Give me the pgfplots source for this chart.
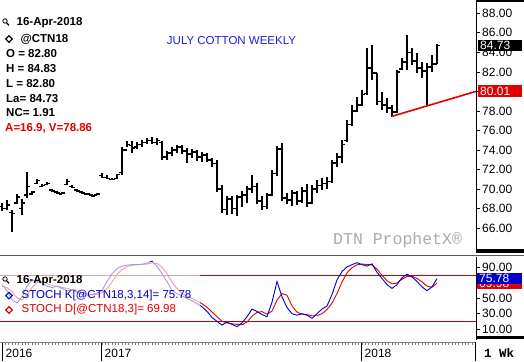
\documentclass[border=0pt]{standalone}
\usepackage{pgfplots}
\pgfplotsset{compat=1.18}
\usepackage{pgfplotstable}
\usepackage{fontspec}
\setmainfont{Liberation Sans}
\setmonofont{Liberation Mono}
\usetikzlibrary{shapes.geometric}

\definecolor{kblue}{RGB}{0,0,204}
\definecolor{dred}{RGB}{225,0,0}
\definecolor{lred}{RGB}{200,0,0}
\definecolor{titleblue}{RGB}{30,30,210}
\definecolor{wmgray}{RGB}{170,170,170}

\pgfdeclareplotmark{ohlcO}{\pgfpathmoveto{\pgfqpoint{-2.6pt}{0pt}}\pgfpathlineto{\pgfqpoint{0pt}{0pt}}\pgfusepathqstroke}
\pgfdeclareplotmark{ohlcC}{\pgfpathmoveto{\pgfqpoint{0pt}{0pt}}\pgfpathlineto{\pgfqpoint{2.6pt}{0pt}}\pgfusepathqstroke}

\pgfplotstableread{
t O H L C
-72 68.2 68.6 67.8 68.0
-71 68.0 68.9 67.9 68.4
-70 67.6 67.9 65.6 67.5
-69 68.6 69.5 68.5 69.2
-68 68.0 69.0 67.4 68.6
-67 69.4 71.8 69.1 70.3
-66 69.5 69.8 69.4 69.7
-65 70.6 71.0 70.5 70.9
-64 70.3 70.5 70.2 70.4
-63 70.5 70.7 70.4 70.6
-62 69.9 70.0 69.7 69.8
-61 69.7 69.8 69.5 69.6
-60 69.5 69.7 69.5 69.6
-59 70.5 71.0 70.4 70.8
-58 70.3 70.4 70.1 70.2
-57 69.9 70.0 69.7 69.8
-56 69.7 69.8 69.5 69.6
-55 69.5 69.6 69.4 69.5
-54 69.4 69.5 69.2 69.3
-53 69.4 69.6 69.4 69.5
-52 71.4 71.7 71.1 71.2
-51 71.2 71.5 71.0 71.1
-50 71.0 71.1 70.9 71.0
-49 71.1 71.6 71.0 71.5
-48 71.7 74.3 71.5 74.0
-47 74.0 74.9 74.3 74.6
-46 74.5 74.9 73.7 74.2
-45 74.3 74.8 74.1 74.6
-44 74.6 75.0 74.3 74.8
-43 74.8 75.2 74.6 75.0
-42 75.0 75.3 74.6 74.8
-41 74.8 75.2 74.5 75.0
-40 74.8 74.9 73.0 73.3
-39 73.3 73.9 73.0 73.7
-38 73.7 74.3 73.4 74.0
-37 74.0 74.5 73.7 74.3
-36 74.3 74.5 73.6 73.9
-35 73.9 74.2 72.7 73.6
-34 73.6 74.1 73.2 73.8
-33 73.8 74.0 72.9 73.3
-32 73.3 73.8 72.8 73.5
-31 73.5 73.7 72.8 73.0
-30 73.0 73.2 72.3 72.6
-29 72.6 73.0 69.7 70.0
-28 70.0 70.4 67.6 67.9
-27 67.9 69.3 67.4 69.0
-26 69.0 69.3 67.5 68.0
-25 68.0 69.4 67.3 69.2
-24 69.2 69.8 68.2 69.4
-23 69.4 70.3 68.6 70.0
-22 70.0 71.5 69.6 70.3
-21 70.3 70.6 68.5 68.8
-20 68.8 69.3 67.9 68.2
-19 68.2 69.6 68.0 69.4
-18 69.4 72.0 69.3 71.6
-17 71.6 74.4 71.4 74.1
-16 74.1 74.7 68.8 69.1
-15 69.1 69.6 68.5 68.9
-14 68.9 69.9 68.3 69.6
-13 69.6 69.8 68.4 68.8
-12 68.8 70.2 68.6 69.8
-11 69.8 70.5 68.2 68.6
-10 68.6 70.4 68.5 70.0
-9 70.0 70.9 69.6 70.4
-8 70.4 71.1 69.9 70.6
-7 70.6 71.2 70.0 70.8
-6 70.8 73.0 70.6 72.7
-5 72.7 73.7 72.3 73.3
-4 73.3 75.0 72.7 74.6
-3 75.0 77.1 74.8 76.6
-2 76.6 78.6 76.5 78.0
-1 78.0 79.4 77.9 78.6
0 78.6 80.1 78.5 79.7
1 79.8 84.4 79.6 82.4
2 82.4 84.8 81.2 81.9
3 81.9 81.9 78.6 79.0
4 79.0 79.9 78.1 78.6
5 78.6 79.3 77.8 78.3
6 78.3 78.6 77.4 77.9
7 77.9 82.2 77.8 82.0
8 82.3 83.4 82.2 83.0
9 83.0 85.8 82.2 84.0
10 84.0 84.4 82.7 83.1
11 83.1 83.9 81.9 82.4
12 82.4 83.0 81.4 82.1
13 82.1 82.9 78.6 82.5
14 82.5 83.7 82.0 82.82
15 82.80 84.83 82.80 84.73
}\ohlc

\pgfplotstableread{
t K D
-72 68 66
-71 60 64
-70 48 58.7
-69 44 50.7
-68 52 48
-67 66 54
-66 74 64
-65 72 70.7
-64 70 72
-63 66 69.3
-62 64 66.7
-61 66 65.3
-60 63 64.3
-59 60 63
-58 61 61.3
-57 58 59.7
-56 55 58
-55 54 55.7
-54 55 54.7
-53 57 55.3
-52 60 57.3
-51 72 63
-50 82 71.3
-49 89 81
-48 92 87.7
-47 93.5 91.5
-46 94 93.2
-45 94 93.8
-44 94.5 94.2
-43 96 94.8
-42 98.5 96.3
-41 92 95.5
-40 82 90.8
-39 72 82
-38 60 71.3
-37 56 62.7
-36 53 56.3
-35 50 53
-34 47 50
-33 43 46.7
-32 39 43
-31 33 38.3
-30 25 32.3
-29 20 26
-28 15 20
-27 19 18
-26 16 16.7
-25 13 16
-24 18 15.7
-23 26 19
-22 36 26.7
-21 33 31.7
-20 29 32.7
-19 26 29.3
-18 45 33.3
-17 72 47.7
-16 52 56.3
-15 38 54
-14 30 40
-13 28 32
-12 30 29.3
-11 28 28.7
-10 24 27.3
-9 30 27.3
-8 36 30
-7 40 35.3
-6 55 43.7
-5 74 56.3
-4 85 71.3
-3 91 83.3
-2 94 90
-1 96.5 93.8
0 94 94.8
1 92 94.2
2 95 93.7
3 84 88
4 76 80
5 68 73
6 63 69
7 68 70
8 77 75
9 81.5 78.5
10 78 79
11 72 76
12 65 71.5
13 60 66
14 65 64.5
15 75.78 69.98
}\stoch

\begin{document}
\begin{tikzpicture}
\path[use as bounding box] (0pt,0pt) rectangle (524pt,361pt);

% ---------- main price panel ----------
\begin{axis}[
  at={(0pt,108pt)}, anchor=south west, scale only axis,
  width=476pt, height=253pt,
  xmin=-72.4, xmax=22.8, ymin=63.47, ymax=89.36,
  axis x line=none, axis y line*=right,
  ytick={66,68,...,88},
  yticklabels={66.00,68.00,70.00,72.00,74.00,76.00,78.00,,82.00,84.00,86.00,88.00},
  tick align=outside, major tick length=4pt,
  yticklabel style={font=\fontsize{12}{12}\selectfont, inner xsep=2pt},
  axis line style={black, line width=0.8pt},
  tick style={black, line width=0.7pt},
  clip=false,
]
\addplot[draw=none, mark=none, forget plot,
  error bars/.cd, y dir=both, y explicit, error mark=none,
  error bar style={draw=black, line width=1.6pt}]
  table[x=t, y expr={(\thisrow{H}+\thisrow{L})/2}, y error expr={(\thisrow{H}-\thisrow{L})/2}] {\ohlc};
\addplot[only marks, mark=ohlcO, mark options={black, line width=1.4pt}] table[x=t, y=O] {\ohlc};
\addplot[only marks, mark=ohlcC, mark options={black, line width=1.4pt}] table[x=t, y=C] {\ohlc};
\addplot[dred, line width=1.6pt] coordinates {(5.95,77.45) (22.8,80.01)};
\end{axis}

% ---------- stochastic panel ----------
\begin{axis}[
  at={(0pt,21pt)}, anchor=south west, scale only axis,
  width=476pt, height=83pt,
  xmin=-72.4, xmax=22.8, ymin=-4.36, ymax=103.97,
  axis x line=none, axis y line*=right,
  ytick={10,30,50,70,90},
  yticklabels={10.00,30.00,50.00,,90.00},
  tick align=outside, major tick length=4pt,
  yticklabel style={font=\fontsize{12}{12}\selectfont, inner xsep=2pt},
  axis line style={black, line width=0.8pt},
  tick style={black, line width=0.7pt},
  clip=false,
]
\addplot[lred, line width=0.8pt] coordinates {(-72.4,80) (22.8,80)};
\addplot[lred, line width=0.8pt] coordinates {(-72.4,20) (22.8,20)};
\addplot[dred, line width=0.9pt] table[x=t, y=D] {\stoch};
\addplot[kblue, line width=0.9pt] table[x=t, y=K] {\stoch};
\fill[white, fill opacity=0.62] (axis cs:-72.4,24.3) rectangle (axis cs:-32.4,97.4);
\end{axis}

% ---------- time strip ----------
\begin{axis}[
  at={(0pt,0pt)}, anchor=south west, scale only axis,
  width=476pt, height=19pt,
  xmin=-72.4, xmax=22.8, ymin=0, ymax=1,
  axis y line=none, axis x line*=top,
  xtick={-71.86,-52.06,-0.06}, xticklabels={,,},
  minor xtick={-72,-71.3333,...,22.6},
  tick align=inside, major tick length=19pt, minor tick length=3pt,
  major tick style={black, line width=1.4pt},
  minor tick style={gray, line width=0.5pt},
  axis line style={gray, line width=0.9pt},
  clip=false,
]
\node[anchor=west, inner sep=0pt, font=\fontsize{12}{12}\selectfont] at (axis cs:-71.3,0.42) {2016};
\node[anchor=west, inner sep=0pt, font=\fontsize{12}{12}\selectfont] at (axis cs:-51.5,0.42) {2017};
\node[anchor=west, inner sep=0pt, font=\fontsize{12}{12}\selectfont] at (axis cs:0.5,0.42) {2018};
\end{axis}

% ---------- frame decorations ----------
\fill[black] (476pt,358.5pt) rectangle (524pt,361pt);
\fill[black] (476pt,107.5pt) rectangle (524pt,111.5pt);
\draw[black!65, line width=1.5pt] (0pt,105.5pt) -- (524pt,105.5pt);
\fill[black] (476pt,21.5pt) rectangle (524pt,25pt);
\draw[black, line width=0.8pt] (475.5pt,0pt) -- (475.5pt,19pt);
\node[anchor=west, inner sep=0pt, font=\ttfamily\bfseries\fontsize{12.5}{12.5}\selectfont] at (484pt,8.5pt) {1 Wk};

% value boxes
\node[fill=black, text=white, anchor=west, inner xsep=2pt, inner ysep=0pt, text width=40pt, minimum height=11pt, align=left, font=\fontsize{12}{12}\selectfont] at (478pt,315.7pt) {84.73};
\node[fill=dred, text=white, anchor=west, inner xsep=2pt, inner ysep=0pt, text width=40pt, minimum height=12pt, align=left, font=\fontsize{12}{12}\selectfont] at (478pt,270pt) {80.01};
\node[fill=dred, text=white, anchor=west, inner xsep=2pt, inner ysep=0pt, text width=41pt, minimum height=11pt, align=left, font=\fontsize{12}{12}\selectfont] at (477pt,77.5pt) {69.98};
\node[fill=kblue, text=white, anchor=west, inner xsep=2pt, inner ysep=0pt, text width=41pt, minimum height=11pt, align=left, font=\fontsize{12}{12}\selectfont] at (477pt,82.6pt) {75.78};

% title and watermark
\node[inner sep=0pt, text=titleblue, font=\fontsize{11.5}{11.5}\selectfont] at (231.5pt,320pt) {JULY COTTON WEEKLY};
\node[anchor=west, inner sep=0pt, text=wmgray, font=\ttfamily\fontsize{16.5}{16.5}\selectfont] at (333pt,120.5pt) {DTN ProphetX®};

% main legend
\draw[black, line width=0.8pt] (5pt,340pt) circle (2.2pt);
\draw[black, line width=1.2pt] (6.6pt,338.3pt) -- (9pt,335.6pt);
\node[anchor=west, inner sep=0pt, font=\bfseries\fontsize{11.5}{11.5}\selectfont] at (16.5pt,338pt) {16-Apr-2018};
\node[diamond, draw=black, line width=1.1pt, inner sep=0pt, minimum size=7pt] at (9pt,322pt) {};
\node[anchor=west, inner sep=0pt, font=\bfseries\fontsize{11.5}{11.5}\selectfont] at (20.5pt,322pt) {@CTN18};
\node[anchor=west, inner sep=0pt, font=\bfseries\fontsize{11.5}{11.5}\selectfont] at (6pt,307pt) {O = 82.80};
\node[anchor=west, inner sep=0pt, font=\bfseries\fontsize{11.5}{11.5}\selectfont] at (6pt,292pt) {H = 84.83};
\node[anchor=west, inner sep=0pt, font=\bfseries\fontsize{11.5}{11.5}\selectfont] at (6pt,277pt) {L = 82.80};
\node[anchor=west, inner sep=0pt, font=\bfseries\fontsize{11.5}{11.5}\selectfont] at (6pt,262pt) {La= 84.73};
\node[anchor=west, inner sep=0pt, font=\bfseries\fontsize{11.5}{11.5}\selectfont] at (6pt,248pt) {NC= 1.91};
\node[anchor=west, inner sep=0pt, text=dred, font=\bfseries\fontsize{11.5}{11.5}\selectfont] at (5pt,233pt) {A=16.9, V=78.86};

% stochastic legend
\draw[black, line width=0.8pt] (5pt,82pt) circle (2.2pt);
\draw[black, line width=1.2pt] (6.6pt,80.3pt) -- (9pt,77.6pt);
\node[anchor=west, inner sep=0pt, font=\bfseries\fontsize{11.5}{11.5}\selectfont] at (16.5pt,80pt) {16-Apr-2018};
\node[diamond, draw=kblue, line width=1.1pt, inner sep=0pt, minimum size=7pt] at (9pt,65.3pt) {};
\node[anchor=west, inner sep=0pt, text=kblue, font=\fontsize{11.5}{11.5}\selectfont] at (21.5pt,65.3pt) {STOCH K[@CTN18,3,14]= 75.78};
\node[diamond, draw=dred, line width=1.1pt, inner sep=0pt, minimum size=7pt] at (9pt,51pt) {};
\node[anchor=west, inner sep=0pt, text=dred, font=\fontsize{11.5}{11.5}\selectfont] at (21.5pt,51pt) {STOCH D[@CTN18,3]= 69.98};
\end{tikzpicture}
\end{document}
